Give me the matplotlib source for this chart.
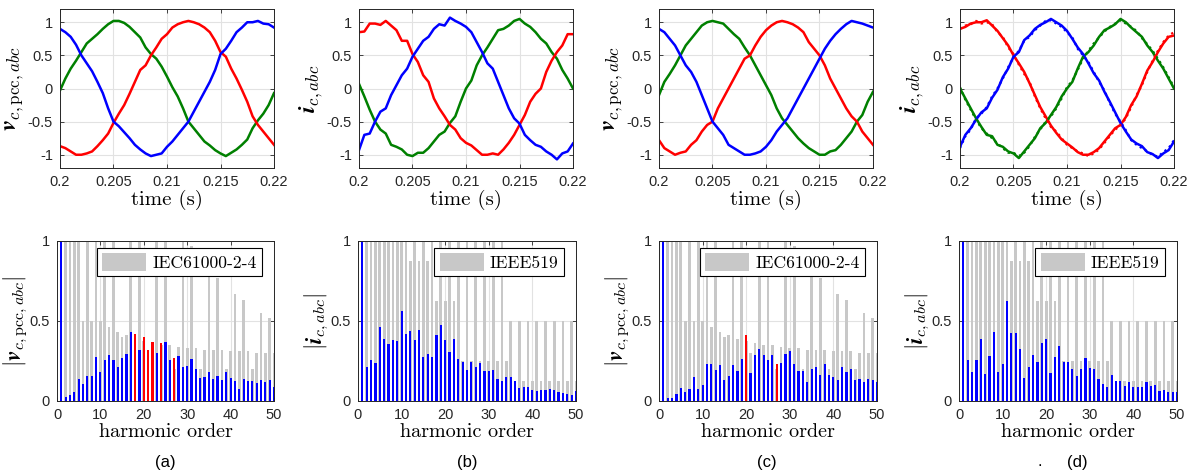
import numpy as np
import matplotlib
matplotlib.use("Agg")
import matplotlib.pyplot as plt

plt.rcParams['font.family'] = ['Liberation Sans', 'DejaVu Sans']
plt.rcParams['mathtext.fontset'] = 'cm'
plt.rcParams['axes.unicode_minus'] = False

# time grid of the read-off samples (0.5 ms)
t = np.linspace(0.2, 0.22, 41)

# (a) PCC voltages
va_r = [-0.87, -0.9, -0.95, -1.0, -1.0, -0.98, -0.95, -0.87, -0.78, -0.68,
        -0.52, -0.38, -0.25, -0.08, 0.1, 0.28, 0.35, 0.5, 0.62, 0.75,
        0.82, 0.92, 0.97, 1.0, 1.02, 1.0, 0.97, 0.92, 0.85, 0.72,
        0.55, 0.48, 0.3, 0.15, -0.02, -0.2, -0.42, -0.55, -0.65, -0.75, -0.85]
va_g = [-0.03, 0.15, 0.3, 0.42, 0.55, 0.68, 0.75, 0.82, 0.9, 0.97,
        1.02, 1.02, 0.99, 0.93, 0.85, 0.77, 0.62, 0.52, 0.45, 0.33,
        0.18, 0.02, -0.12, -0.3, -0.5, -0.6, -0.7, -0.8, -0.86, -0.93,
        -0.98, -1.02, -0.97, -0.92, -0.85, -0.77, -0.6, -0.48, -0.38, -0.25, -0.07]
va_b = [0.9, 0.85, 0.78, 0.66, 0.5, 0.38, 0.26, 0.1, -0.07, -0.3,
        -0.5, -0.57, -0.66, -0.75, -0.85, -0.92, -0.98, -1.02, -1.0, -0.98,
        -0.88, -0.8, -0.7, -0.6, -0.5, -0.35, -0.2, -0.05, 0.1, 0.28,
        0.52, 0.6, 0.72, 0.85, 0.92, 1.0, 1.0, 1.02, 0.98, 0.97, 0.92]

# (b) converter currents
ib_r = [0.85, 0.86, 0.98, 0.98, 0.96, 1.02, 0.95, 0.88, 0.72, 0.72,
        0.52, 0.4, 0.2, 0.1, -0.15, -0.3, -0.42, -0.55, -0.62, -0.75,
        -0.82, -0.86, -0.93, -1.0, -1.0, -0.98, -1.0, -0.92, -0.82, -0.7,
        -0.55, -0.4, -0.2, -0.08, 0.0, 0.25, 0.42, 0.55, 0.65, 0.82, 0.82]
ib_g = [0.07, -0.12, -0.32, -0.5, -0.62, -0.68, -0.85, -0.88, -0.92, -1.0,
        -1.02, -0.97, -0.97, -0.9, -0.8, -0.7, -0.65, -0.52, -0.42, -0.2,
        0.0, 0.12, 0.35, 0.5, 0.62, 0.75, 0.88, 0.9, 0.95, 1.02,
        1.05, 0.98, 0.93, 0.85, 0.75, 0.68, 0.55, 0.45, 0.28, 0.15, 0.0]
ib_b = [-0.93, -0.7, -0.68, -0.5, -0.35, -0.3, -0.1, 0.05, 0.2, 0.3,
        0.48, 0.6, 0.72, 0.78, 0.9, 0.97, 0.95, 1.07, 1.02, 0.98,
        0.93, 0.85, 0.7, 0.55, 0.38, 0.3, 0.1, -0.1, -0.3, -0.45,
        -0.53, -0.7, -0.78, -0.85, -0.88, -0.95, -1.0, -1.07, -0.98, -0.95, -0.83]

# (c) PCC voltages
vc_r = [-0.78, -0.9, -0.95, -1.0, -0.97, -0.95, -0.85, -0.78, -0.65, -0.55,
        -0.5, -0.3, -0.15, 0.0, 0.15, 0.3, 0.45, 0.5, 0.65, 0.78,
        0.88, 0.95, 1.0, 1.02, 1.0, 0.97, 0.92, 0.85, 0.7, 0.6,
        0.5, 0.35, 0.15, 0.0, -0.15, -0.3, -0.42, -0.5, -0.65, -0.75, -0.85]
vc_g = [-0.1, 0.1, 0.22, 0.35, 0.5, 0.65, 0.75, 0.85, 0.95, 1.0,
        1.02, 1.0, 0.98, 0.9, 0.82, 0.75, 0.62, 0.5, 0.35, 0.2,
        0.05, -0.1, -0.3, -0.45, -0.55, -0.65, -0.75, -0.83, -0.9, -0.95,
        -1.0, -1.0, -0.95, -0.93, -0.85, -0.75, -0.65, -0.5, -0.4, -0.2, -0.05]
vc_b = [0.9, 0.85, 0.75, 0.65, 0.5, 0.35, 0.25, 0.1, -0.1, -0.3,
        -0.5, -0.6, -0.7, -0.85, -0.9, -0.95, -1.0, -1.0, -0.98, -0.95,
        -0.88, -0.78, -0.65, -0.55, -0.45, -0.3, -0.15, 0.0, 0.15, 0.3,
        0.45, 0.6, 0.72, 0.82, 0.9, 0.97, 1.02, 1.0, 0.98, 0.95, 0.92]

# (d) converter currents, solid = measured, dotted = reference
id_r = [0.9, 0.93, 0.98, 1.0, 1.0, 1.03, 0.95, 0.87, 0.76, 0.65,
        0.5, 0.38, 0.25, 0.08, -0.1, -0.28, -0.42, -0.56, -0.67, -0.77,
        -0.83, -0.89, -0.96, -1.0, -1.0, -0.96, -0.9, -0.8, -0.7, -0.6,
        -0.55, -0.43, -0.25, -0.12, 0.07, 0.27, 0.4, 0.55, 0.68, 0.78, 0.8]
id_g = [0.0, -0.15, -0.3, -0.45, -0.58, -0.7, -0.72, -0.85, -0.88, -0.95,
        -0.98, -1.05, -0.95, -0.85, -0.75, -0.6, -0.52, -0.4, -0.28, -0.12,
        0.0, 0.1, 0.3, 0.48, 0.55, 0.65, 0.78, 0.88, 0.92, 0.97,
        1.05, 1.0, 0.92, 0.85, 0.78, 0.65, 0.55, 0.42, 0.3, 0.15, 0.0]
id_b = [-0.88, -0.7, -0.6, -0.47, -0.36, -0.3, -0.14, -0.02, 0.17, 0.3,
        0.48, 0.55, 0.73, 0.8, 0.9, 0.96, 1.0, 1.05, 1.0, 0.95,
        0.87, 0.75, 0.62, 0.52, 0.38, 0.23, 0.12, -0.05, -0.2, -0.36,
        -0.52, -0.65, -0.77, -0.83, -0.87, -0.96, -0.99, -1.05, -0.98, -0.93, -0.8]
id_r_ref = [0.9, 0.95, 0.97, 1.02, 0.98, 1.0, 0.97, 0.85, 0.78, 0.62,
            0.52, 0.36, 0.22, 0.1, -0.12, -0.3, -0.45, -0.58, -0.65, -0.75,
            -0.85, -0.9, -0.95, -0.98, -1.02, -0.98, -0.92, -0.82, -0.72, -0.62,
            -0.56, -0.45, -0.28, -0.1, 0.05, 0.25, 0.42, 0.57, 0.7, 0.8, 0.85]
id_g_ref = [0.02, -0.17, -0.32, -0.47, -0.6, -0.68, -0.75, -0.83, -0.9, -0.97,
            -0.97, -1.02, -0.97, -0.87, -0.73, -0.62, -0.5, -0.42, -0.3, -0.15,
            0.02, 0.12, 0.28, 0.45, 0.57, 0.68, 0.77, 0.86, 0.93, 0.98,
            1.03, 0.98, 0.93, 0.87, 0.76, 0.67, 0.57, 0.45, 0.32, 0.17, 0.02]
id_b_ref = [-0.9, -0.72, -0.62, -0.45, -0.38, -0.28, -0.12, 0.0, 0.15, 0.32,
            0.47, 0.57, 0.72, 0.78, 0.88, 0.95, 1.02, 1.03, 0.98, 0.93,
            0.85, 0.77, 0.6, 0.5, 0.4, 0.25, 0.1, -0.03, -0.22, -0.38,
            -0.5, -0.63, -0.78, -0.85, -0.9, -0.95, -1.0, -1.03, -0.96, -0.9, -0.78]

# harmonic spectra (normalised to fundamental)
h = np.arange(1, 51)
mag_a = [1.0, 0.023, 0.04, 0.056, 0.14, 0.106, 0.154, 0.154, 0.273, 0.18,
         0.254, 0.285, 0.254, 0.21, 0.267, 0.296, 0.43, 0.42, 0.32, 0.40,
         0.32, 0.37, 0.30, 0.36, 0.37, 0.254, 0.267, 0.28, 0.21, 0.22,
         0.26, 0.20, 0.144, 0.152, 0.18, 0.135, 0.154, 0.133, 0.18, 0.144,
         0.123, 0.075, 0.135, 0.123, 0.123, 0.11, 0.13, 0.117, 0.13, 0.09]
mag_b = [1.0, 0.21, 0.254, 0.238, 0.463, 0.39, 0.358, 0.383, 0.377, 0.565,
         0.417, 0.435, 0.379, 0.442, 0.273, 0.296, 0.273, 0.41, 0.477, 0.383,
         0.304, 0.388, 0.265, 0.246, 0.192, 0.246, 0.213, 0.235, 0.19, 0.185,
         0.196, 0.135, 0.125, 0.152, 0.15, 0.123, 0.08, 0.09, 0.09, 0.07,
         0.065, 0.067, 0.067, 0.073, 0.067, 0.056, 0.05, 0.045, 0.04, 0.06]
mag_c = [1.0, 0.02, 0.02, 0.046, 0.08, 0.056, 0.073, 0.15, 0.077, 0.098,
         0.233, 0.233, 0.196, 0.227, 0.13, 0.154, 0.223, 0.185, 0.265, 0.41,
         0.173, 0.29, 0.327, 0.29, 0.258, 0.29, 0.231, 0.238, 0.296, 0.31,
         0.233, 0.185, 0.185, 0.119, 0.2, 0.21, 0.16, 0.23, 0.16, 0.15,
         0.13, 0.21, 0.18, 0.2, 0.13, 0.14, 0.12, 0.14, 0.13, 0.12]
mag_d = [1.0, 0.258, 0.18, 0.258, 0.385, 0.167, 0.28, 0.433, 0.18, 0.233,
         0.623, 0.423, 0.423, 0.323, 0.144, 0.21, 0.29, 0.242, 0.365, 0.39,
         0.175, 0.273, 0.346, 0.246, 0.246, 0.198, 0.156, 0.2, 0.267, 0.206,
         0.2, 0.14, 0.104, 0.088, 0.163, 0.125, 0.125, 0.096, 0.117, 0.088,
         0.085, 0.085, 0.119, 0.092, 0.098, 0.063, 0.067, 0.054, 0.054, 0.058]

# limits
lim_iec = [0, 2.0, 5.0, 1.0, 6.0, 0.5, 5.0, 0.5, 1.5, 0.5,
           3.5, 0.46, 3.0, 0.43, 0.4, 0.41, 2.0, 0.39, 1.5, 0.375,
           0.3, 0.36, 1.5, 0.35, 1.5, 0.35, 0.2, 0.34, 1.05, 0.33,
           0.97, 0.33, 0.2, 0.32, 0.8, 0.32, 0.77, 0.32, 0.2, 0.31,
           0.67, 0.31, 0.63, 0.31, 0.2, 0.3, 0.55, 0.3, 0.52, 0.3]
lim_ieee = [0, 1.67, 6.67, 1.67, 6.67, 1.67, 6.67, 1.67, 6.67, 1.67,
            3.33, 0.875, 3.33, 0.875, 3.33, 0.875, 2.5, 0.625, 2.5, 0.625,
            2.5, 0.625, 1.0, 0.25, 1.0, 0.25, 1.0, 0.25, 1.0, 0.25,
            1.0, 0.25, 1.0, 0.25, 0.5, 0.125, 0.5, 0.125, 0.5, 0.125,
            0.5, 0.125, 0.5, 0.125, 0.5, 0.125, 0.5, 0.125, 0.5, 0.125]

RED, GREEN, BLUE = (1, 0, 0), (0, 0.5, 0), (0, 0, 1)
GREY = '#c8c8c8'
AX_COL = '#262626'

W, H = 1195, 474
fig = plt.figure(figsize=(W / 100, H / 100), dpi=100)


def fr(left, top, width, height):
    return [left / W, 1 - (top + height) / H, width / W, height / H]


def style(ax):
    ax.tick_params(direction='in', length=3, width=0.6, labelsize=10.5,
                   colors=AX_COL, top=True, right=True, pad=5)
    for s in ax.spines.values():
        s.set_color(AX_COL)
        s.set_linewidth(0.7)
    ax.grid(True, color='#e2e2e2', linewidth=0.8)
    ax.set_axisbelow(True)


def wave(ax, series, ylabel):
    for y, c in series:
        ax.plot(t, y, color=c, lw=1.8)
    ax.set_xlim(0.2, 0.22)
    ax.set_ylim(-1.2, 1.2)
    ax.set_xticks([0.2, 0.205, 0.21, 0.215, 0.22])
    ax.set_xticklabels(['0.2', '0.205', '0.21', '0.215', '0.22'])
    ax.set_yticks([-1, -0.5, 0, 0.5, 1])
    ax.set_yticklabels(['-1', '-0.5', '0', '0.5', '1'])
    ax.set_xlabel('time (s)', fontfamily='cmr10', fontsize=15, labelpad=1)
    ax.set_ylabel(ylabel, fontsize=17.5, labelpad=1)
    style(ax)


def spectrum(ax, mag, lim, name, ylabel):
    mag = np.array(mag)
    lim = np.array(lim)
    ax.bar(h, lim, width=0.62, color=GREY, label=name)
    cols = [RED if (k > 1 and m > l) else BLUE for k, m, l in zip(h, mag, lim)]
    ax.bar(h, mag, width=0.5, color=cols)
    ax.set_xlim(0, 50)
    ax.set_ylim(0, 1)
    ax.set_xticks([0, 10, 20, 30, 40, 50])
    ax.set_yticks([0, 0.5, 1])
    ax.set_yticklabels(['0', '0.5', '1'])
    ax.set_xlabel('harmonic order', fontfamily='cmr10', fontsize=14.5, labelpad=1)
    ax.set_ylabel(ylabel, fontsize=16.5, labelpad=0)
    leg = ax.legend(loc='upper right', bbox_to_anchor=(0.945, 0.958),
                    borderaxespad=0, fancybox=False, framealpha=1,
                    edgecolor='k', handlelength=2.5, handleheight=1.15,
                    handletextpad=0.35, borderpad=0.3,
                    prop={'family': 'cmr10', 'size': 12.7})
    leg.get_frame().set_linewidth(0.8)
    style(ax)


tops_left = [60, 359, 659, 960]
bot_left = [57, 358, 659, 959]

lab_v = r'$\boldsymbol{v}_{c,\mathrm{pcc},abc}$'
lab_i = r'$\boldsymbol{i}_{c,abc}$'

ax = fig.add_axes(fr(tops_left[0], 9, 214, 159))
wave(ax, [(va_g, GREEN), (va_r, RED), (va_b, BLUE)], lab_v)
ax = fig.add_axes(fr(tops_left[1], 9, 214, 159))
wave(ax, [(ib_g, GREEN), (ib_r, RED), (ib_b, BLUE)], lab_i)
ax = fig.add_axes(fr(tops_left[2], 9, 214, 159))
wave(ax, [(vc_g, GREEN), (vc_r, RED), (vc_b, BLUE)], lab_v)
ax = fig.add_axes(fr(tops_left[3], 9, 214, 159))
wave(ax, [(id_g, GREEN), (id_r, RED), (id_b, BLUE)], lab_i)
for y, c in [(id_g_ref, GREEN), (id_r_ref, RED), (id_b_ref, BLUE)]:
    ax.plot(t, y, color=c, lw=1.6, ls=':')

ax = fig.add_axes(fr(bot_left[0], 241, 217, 160))
spectrum(ax, mag_a, lim_iec, 'IEC61000-2-4', r'$|\boldsymbol{v}_{c,\mathrm{pcc},abc}|$')
ax = fig.add_axes(fr(bot_left[1], 241, 218, 160))
spectrum(ax, mag_b, lim_ieee, 'IEEE519', r'$|\boldsymbol{i}_{c,abc}|$')
ax = fig.add_axes(fr(bot_left[2], 241, 218, 160))
spectrum(ax, mag_c, lim_iec, 'IEC61000-2-4', r'$|\boldsymbol{v}_{c,\mathrm{pcc},abc}|$')
ax = fig.add_axes(fr(bot_left[3], 241, 218, 160))
spectrum(ax, mag_d, lim_ieee, 'IEEE519', r'$|\boldsymbol{i}_{c,abc}|$')

for x, s in [(165, '(a)'), (467, '(b)'), (767, '(c)'), (1077, '(d)'), (1040, '.')]:
    fig.text(x / W, 1 - 462 / H, s, ha='center', va='center', fontsize=12,
             color='k')

fig.savefig('out.png', dpi=100)
